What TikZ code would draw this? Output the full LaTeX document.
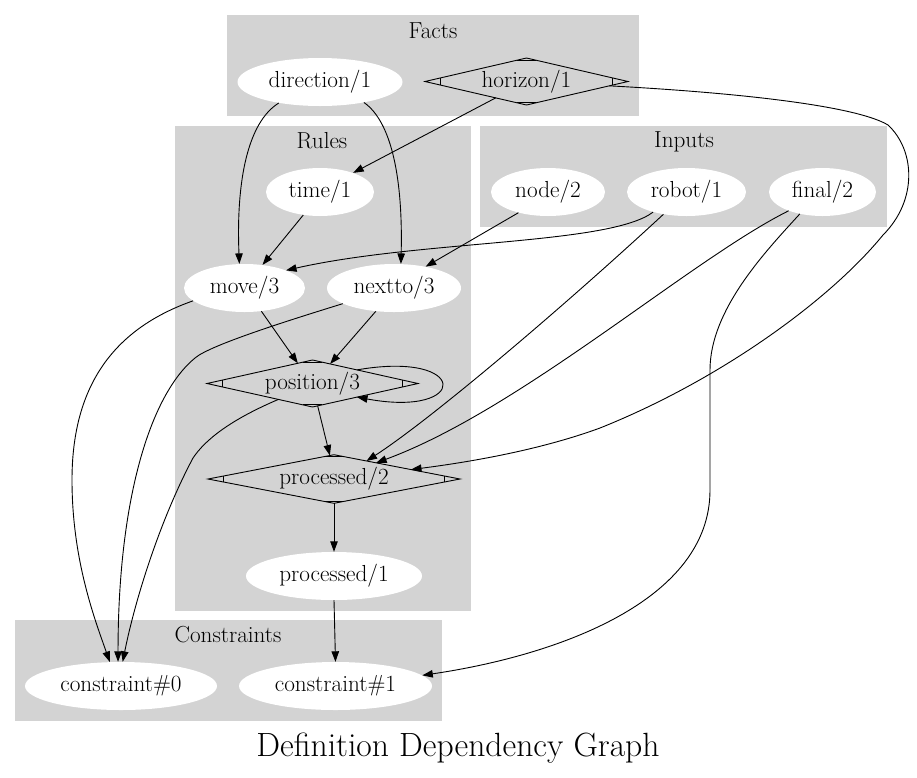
\documentclass[tikz,border=0pt]{standalone}
\usepackage{fontspec}
\usepackage{tikz}
\usetikzlibrary{arrows.meta,shapes.geometric,calc}
\definecolor{clgray}{RGB}{211,211,211}
\newcommand{\nodefont}{\fontsize{23.2}{27}\selectfont}
\newcommand{\titlefont}{\fontsize{33.6}{40}\selectfont}
\tikzset{
  cluster/.style={fill=clgray, draw=none},
  clabel/.style={font=\nodefont, inner sep=0pt},
  pred/.style={ellipse, fill=white, inner sep=1pt, font=\nodefont, minimum height=48pt},
  mpred/.style={diamond, draw, line width=0.9pt, inner sep=0pt, outer sep=0pt,
                aspect=4.3, font=\nodefont},
  mcap/.style={line width=0.9pt},
  flow/.style={-{Triangle[length=10.5pt, width=7.5pt]}, line width=0.9pt},
}

\begin{document}
\begin{tikzpicture}[x=1pt, y=-1pt]
  \useasboundingbox (0,0) rectangle (917,777);
  \fill[cluster] (227,15) rectangle (639,116);
  \fill[cluster] (175,126) rectangle (471,611);
  \fill[cluster] (480,126) rectangle (887,227);
  \fill[cluster] (15,620) rectangle (442,721);
  \node[clabel] (facts) at (433,31) {Facts};
  \node[clabel] (rules) at (322,141) {Rules};
  \node[clabel] (inputs) at (684,142) {Inputs};
  \node[clabel] (constraints) at (228,635) {Constraints};

  \node[pred, minimum width=165pt] (direction) at (320,82) {direction/1};
  \node[mpred, minimum width=203pt, minimum height=47pt] (horizon) at (526.5,81.5) {horizon/1};
  \node[pred, minimum width=108pt] (time) at (320,192) {time/1};
  \node[pred, minimum width=114pt] (node2) at (548,192) {node/2};
  \node[pred, minimum width=119pt] (robot) at (686.5,192) {robot/1};
  \node[pred, minimum width=107pt] (final) at (822.5,192) {final/2};
  \node[pred, minimum width=121pt] (move) at (244.5,288) {move/3};
  \node[pred, minimum width=134pt] (nextto) at (394,288) {nextto/3};
  \node[mpred, minimum width=211pt, minimum height=47pt] (position) at (312.5,383.5) {position/3};
  \node[mpred, minimum width=252pt, minimum height=48pt] (proc2) at (334,479) {processed/2};
  \node[pred, minimum width=176pt] (proc1) at (334,576) {processed/1};
  \node[pred, minimum width=192pt] (con0) at (121,686) {constraint\#0};
  \node[pred, minimum width=193pt] (con1) at (335.5,686) {constraint\#1};
  \node[font=\titlefont] (title) at (458,748) {Definition Dependency Graph};

  \foreach \n in {horizon,position,proc2} {
    \draw[mcap] ($(\n.west)!16pt!(\n.north)$) -- ($(\n.west)!16pt!(\n.south)$);
    \draw[mcap] ($(\n.east)!16pt!(\n.north)$) -- ($(\n.east)!16pt!(\n.south)$);
    \draw[mcap] ($(\n.north)!10pt!(\n.west)$) -- ($(\n.north)!10pt!(\n.east)$);
    \draw[mcap] ($(\n.south)!10pt!(\n.west)$) -- ($(\n.south)!10pt!(\n.east)$);
  }

  \foreach \a/\b in {horizon.208/time.30, time.234/move.52, node2.215/nextto.34,
                     move.306/position.126, nextto.232/position.48, position.283/proc2.100,
                     proc2.south/proc1.north, proc1.south/con1.north}
    \draw[flow] (\a) -- (\b);

  \draw[flow] (direction.207) .. controls (248,122) and (236,180) .. (move.102);
  \draw[flow] (direction.335) .. controls (392,122) and (403,180) .. (nextto.74);
  \draw[flow] (horizon.357) .. controls (760,94) and (860,108) .. (888,125)
    .. controls (915,150) and (918,200) .. (883,235)
    .. controls (830,300) and (720,380) .. (600,428)
    .. controls (540,450) and (470,462) .. (proc2.7);
  \draw[flow] (robot.211) .. controls (610,245) and (420,240) .. (move.23);
  \draw[flow] (robot.224) .. controls (560,310) and (430,420) .. (proc2.29);
  \draw[flow] (final.209) .. controls (690,260) and (520,410) .. (proc2.21);
  \draw[flow] (final.224) .. controls (765,252) and (710,310) .. (710,370) -- (710,490)
    .. controls (710,600) and (560,655) .. (con1.7);
  \draw[flow] (position.17) .. controls (470,350) and (470,418) .. (position.343);
  \draw[flow] (move.194) .. controls (110,330) and (72,390) .. (72,480)
    .. controls (72,560) and (95,620) .. (con0.115);
  \draw[flow] (nextto.197) .. controls (290,320) and (210,345) .. (195,358)
    .. controls (150,395) and (118,500) .. (con0.97);
  \draw[flow] (position.205) .. controls (230,420) and (205,440) .. (193,458)
    .. controls (160,520) and (135,600) .. (con0.86);
\end{tikzpicture}
\end{document}
